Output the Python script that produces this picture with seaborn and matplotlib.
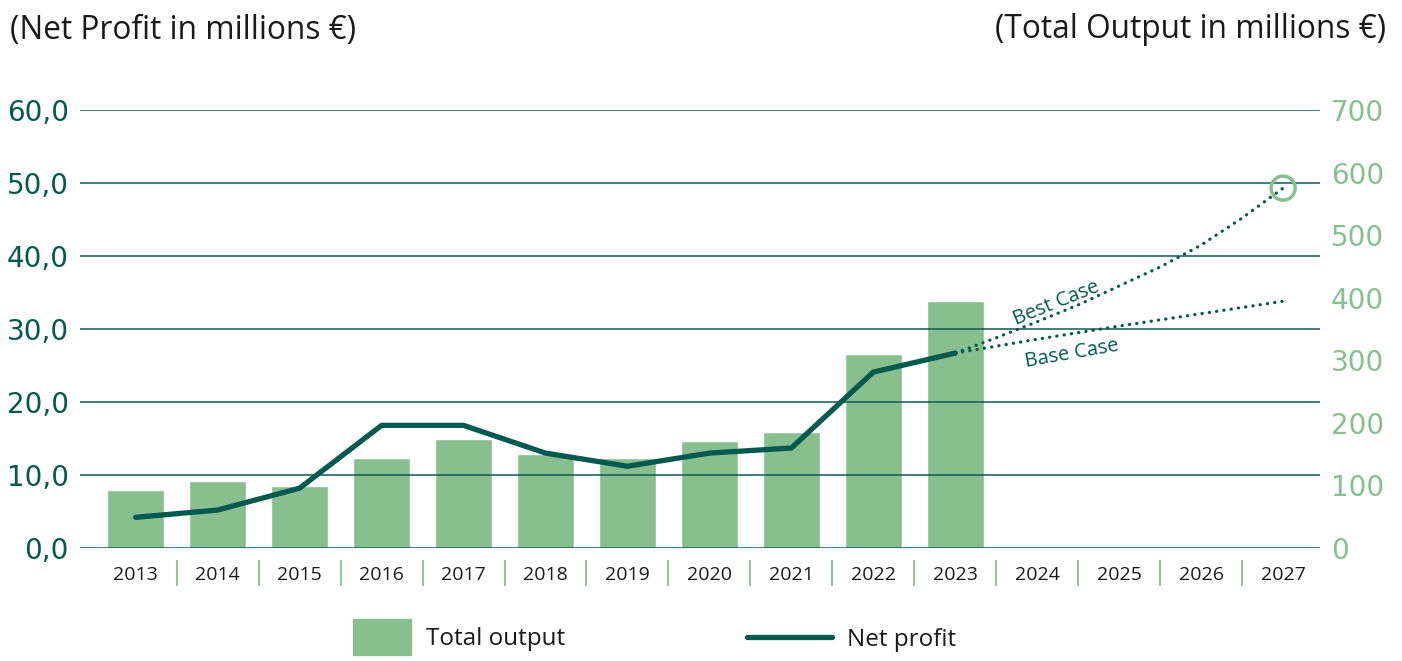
import numpy as np
import pandas as pd
import matplotlib
matplotlib.use("Agg")
import matplotlib.pyplot as plt
import seaborn as sns
from matplotlib.patches import Patch
from matplotlib.lines import Line2D
from matplotlib.ticker import FuncFormatter

sns.set_style("white")
plt.rcParams['font.family'] = ['Open Sans', 'DejaVu Sans']

# --- data ---
years_all = ['2013', '2014', '2015', '2016', '2017', '2018', '2019', '2020',
             '2021', '2022', '2023', '2024', '2025', '2026', '2027']
years_hist = ['2013', '2014', '2015', '2016', '2017', '2018', '2019', '2020',
              '2021', '2022', '2023']
total_output = [93, 107, 99, 144, 175, 151, 144, 171, 185, 310, 395]   # right axis
net_profit = [4.2, 5.2, 8.2, 16.8, 16.8, 13.0, 11.2, 13.0, 13.7, 24.1, 26.7]  # left axis

# projections
best_years = [2023, 2023.5, 2024, 2024.5, 2025, 2025.5, 2026, 2026.5, 2027]
best_case = [26.7, 28.8, 31.0, 33.3, 35.9, 38.5, 41.5, 45.2, 49.3]
base_years = [2023, 2024, 2025, 2026, 2027]
base_case = [26.7, 28.6, 30.4, 32.1, 33.8]

# colours
GREEN = '#87bf8f'
TEAL = '#05594f'
GRID = '#0e5a52'
TXT = '#1a1a1a'

first = int(years_all[0])
df_bars = pd.DataFrame({'year': years_hist, 'output': total_output})
df_line = pd.DataFrame({'x': [int(y) - first for y in years_hist], 'profit': net_profit})
df_best = pd.DataFrame({'x': [y - first for y in best_years], 'v': best_case})
df_base = pd.DataFrame({'x': [y - first for y in base_years], 'v': base_case})

fig = plt.figure(figsize=(14.02, 6.61), dpi=100)
ax = fig.add_axes([80 / 1402, 113 / 661, 1240 / 1402, 438 / 661])
ax2 = ax.twinx()

# bars (right axis scale)
sns.barplot(data=df_bars, x='year', y='output', order=years_all, ax=ax,
            color=GREEN, saturation=1, width=0.7, zorder=1)
ax.set_ylim(0, 700)
ax.set_yticks(range(0, 701, 100))
ax.yaxis.tick_right()
ax.tick_params(axis='y', labelsize=20, labelcolor=GREEN, length=0, pad=8)
for t in ax.get_yticklabels():
    t.set_family('DejaVu Sans')
ax.tick_params(axis='x', labelsize=14, labelcolor=TXT, length=0, pad=13)
ax.set_xlabel('')
ax.set_ylabel('')
ax.grid(False)

# separators between year labels
ax.vlines(np.arange(len(years_all) - 1) + 0.5, -0.027, -0.087,
          transform=ax.get_xaxis_transform(), clip_on=False,
          color=GREEN, lw=1.3)

# net profit line (left axis)
sns.lineplot(data=df_line, x='x', y='profit', ax=ax2, color=TEAL, lw=3.8,
             solid_capstyle='round', zorder=3)
for d in (df_best, df_base):
    sns.lineplot(data=d, x='x', y='v', ax=ax2, color=TEAL, lw=2.3,
                 linestyle=(0, (0.1, 2.2)), dash_capstyle='round', zorder=3)
ax2.scatter([df_best['x'].iloc[-1]], [best_case[-1]], s=300, facecolors='none',
            edgecolors=GREEN, linewidths=2.5, zorder=4, clip_on=False)

ax2.set_ylim(0, 60)
ax2.set_yticks(range(0, 61, 10))
ax2.yaxis.tick_left()
ax2.yaxis.set_major_formatter(FuncFormatter(lambda v, p: f'{v:.1f}'.replace('.', ',')))
ax2.tick_params(axis='y', labelsize=20, labelcolor=TEAL, length=0, pad=8)
for t in ax2.get_yticklabels():
    t.set_family('DejaVu Sans')
ax2.grid(axis='y', color=GRID, lw=1.1, zorder=0)
ax2.set_xlabel('')
ax2.set_ylabel('')
ax.set_xlim(-0.68, 14.45)

for a in (ax, ax2):
    for s in a.spines.values():
        s.set_visible(False)

ax2.text(11.23, 33.5, 'Best Case', rotation=22, ha='center', va='center',
         fontsize=14.5, color=TEAL)
ax2.text(11.42, 26.6, 'Base Case', rotation=10, ha='center', va='center',
         fontsize=14.5, color=TEAL)

# axis titles
fig.text(10 / 1402, 1 - 30 / 661, '(Net Profit in millions €)', ha='left',
         va='center', fontsize=22.8, color=TXT)
fig.text(1386 / 1402, 1 - 30 / 661, '(Total Output in millions €)', ha='right',
         va='center', fontsize=22.8, color=TXT)

# legend
fig.legend(handles=[Patch(color=GREEN, label='Total output')],
           loc='center left', bbox_to_anchor=(331 / 1402, 1 - 637 / 661),
           frameon=False, fontsize=17.5, handlelength=2.4, handleheight=1.9,
           handletextpad=0.6, labelcolor=TXT)
fig.legend(handles=[Line2D([], [], color=TEAL, lw=3.8, solid_capstyle='round',
                           label='Net profit')],
           loc='center left', bbox_to_anchor=(725 / 1402, 1 - 640 / 661),
           frameon=False, fontsize=17.5, handlelength=3.5,
           handletextpad=0.6, labelcolor=TXT)

fig.savefig('out.png', dpi=100)
